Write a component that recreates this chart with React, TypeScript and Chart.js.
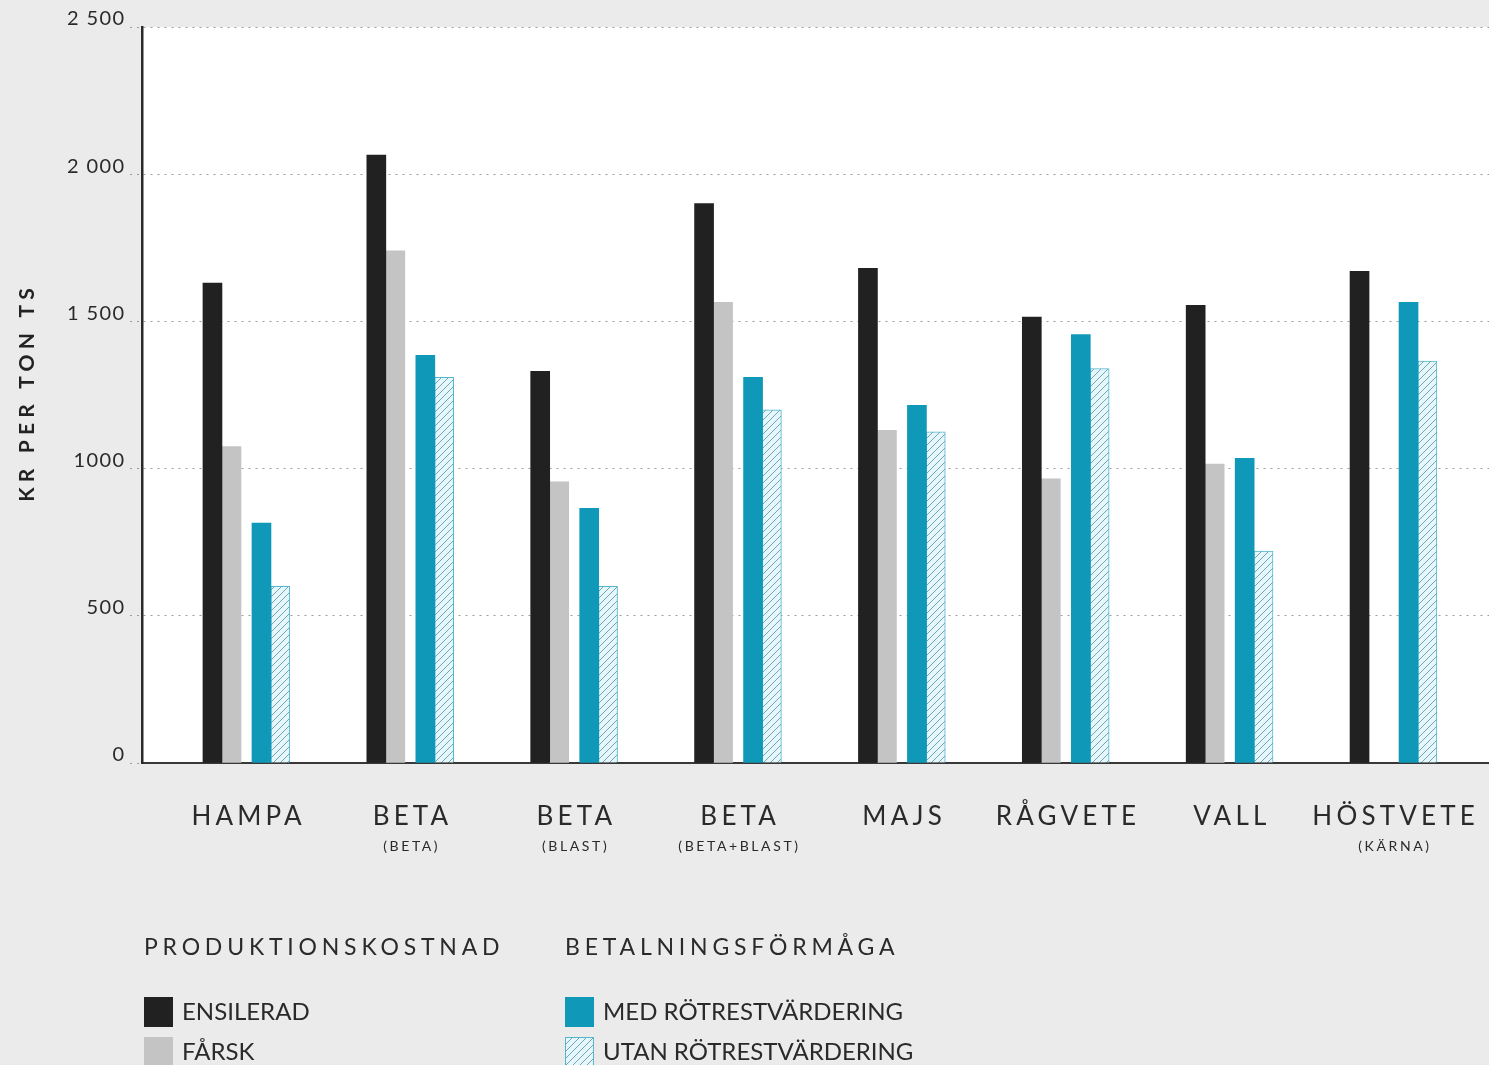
import React, { useEffect, useRef } from 'react';
import { Chart, registerables } from 'chart.js';

Chart.register(...registerables);

// ---------- data ----------
const categories = ['HAMPA', 'BETA', 'BETA', 'BETA', 'MAJS', 'RÅGVETE', 'VALL', 'HÖSTVETE'];
const subLabels = ['', '(BETA)', '(BLAST)', '(BETA+BLAST)', '', '', '', '(KÄRNA)'];

const ensilerad = [1630, 2065, 1330, 1900, 1680, 1515, 1555, 1670];
const farsk = [1075, 1740, 955, 1565, 1130, 965, 1015, null];
const medRotrest = [815, 1385, 865, 1310, 1215, 1455, 1035, 1565];
const utanRotrest = [600, 1310, 600, 1200, 1125, 1340, 720, 1365];

const seriesNames = ['ENSILERAD', 'FÅRSK', 'MED RÖTRESTVÄRDERING', 'UTAN RÖTRESTVÄRDERING'];
const legendHeaders = ['PRODUKTIONSKOSTNAD', 'BETALNINGSFÖRMÅGA'];

const yTicks = [0, 500, 1000, 1500, 2000, 2500];
const yTickLabels = ['0', '500', '1000', '1 500', '2 000', '2 500'];
const yTitle = 'KR PER TON TS';

// ---------- style ----------
const W = 1489;
const H = 1065;
const PAGE_BG = '#ebebeb';
const BLACK = '#212121';
const GRAY = '#c4c4c4';
const TEAL = '#1098b8';
const HATCH_BORDER = '#55b6cc';
const TEXT = '#2a2a2a';
const FONT = 'Lato, "Open Sans", sans-serif';

const barOffsets = [-0.208, -0.092, 0.091, 0.206];

function makeHatch(): CanvasPattern | string {
  const c = document.createElement('canvas');
  c.width = 7;
  c.height = 7;
  const g = c.getContext('2d');
  if (!g) return '#e4f5f9';
  g.fillStyle = '#e6f6fa';
  g.fillRect(0, 0, 7, 7);
  g.strokeStyle = '#6aa9b8';
  g.lineWidth = 1;
  g.beginPath();
  g.moveTo(-1, 8); g.lineTo(8, -1);
  g.moveTo(-1, 1); g.lineTo(1, -1);
  g.moveTo(6, 8); g.lineTo(8, 6);
  g.stroke();
  const p = g.createPattern(c, 'repeat');
  return p || '#e4f5f9';
}

function drawText(
  ctx: CanvasRenderingContext2D,
  text: string,
  x: number,
  y: number,
  opts: { font: string; spacing?: number; align?: 'left' | 'center' | 'right'; color?: string; scaleX?: number; rotate?: number }
) {
  ctx.save();
  ctx.font = opts.font;
  const sp = opts.spacing || 0;
  (ctx as any).letterSpacing = sp + 'px';
  ctx.fillStyle = opts.color || TEXT;
  ctx.textBaseline = 'middle';
  ctx.textAlign = 'left';
  ctx.translate(x, y);
  if (opts.rotate) ctx.rotate(opts.rotate);
  const sx = opts.scaleX || 1;
  ctx.scale(sx, 1);
  const w = ctx.measureText(text).width - sp;
  let dx = 0;
  if (opts.align === 'center') dx = -w / 2;
  else if (opts.align === 'right') dx = -w;
  ctx.fillText(text, dx, 0);
  ctx.restore();
}

export default function App() {
  const ref = useRef<HTMLCanvasElement>(null);

  useEffect(() => {
    const canvas = ref.current;
    if (!canvas) return;
    const hatch = makeHatch();

    const toPoints = (arr: (number | null)[], k: number) =>
      arr.map((v, i) => ({ x: i + barOffsets[k], y: v }));

    const bgPlugin = {
      id: 'bg',
      beforeDraw(chart: any) {
        const { ctx, chartArea } = chart;
        ctx.save();
        ctx.fillStyle = PAGE_BG;
        ctx.fillRect(0, 0, chart.width, chart.height);
        ctx.fillStyle = '#ffffff';
        ctx.fillRect(chartArea.left, chartArea.top, chartArea.right - chartArea.left, chartArea.bottom - chartArea.top);
        ctx.restore();
      },
    };

    const textPlugin = {
      id: 'texts',
      afterDraw(chart: any) {
        const { ctx } = chart;
        const xs = chart.scales.x;
        const ys = chart.scales.y;
        // y tick labels
        yTicks.forEach((v, i) => {
          const py = ys.getPixelForValue(v);
          drawText(ctx, yTickLabels[i], 124, py - 8, { font: `20px ${FONT}`, spacing: 1.4, align: 'right' });
        });
        // category labels
        categories.forEach((c, i) => {
          const px = xs.getPixelForValue(i);
          drawText(ctx, c, px, 817, { font: `26px ${FONT}`, spacing: 4.2, align: 'center' });
          if (subLabels[i]) {
            drawText(ctx, subLabels[i], px, 846, { font: `14px ${FONT}`, spacing: 2.6, align: 'center' });
          }
        });
        // y title
        drawText(ctx, yTitle, 27, 395, { font: `bold 21px ${FONT}`, spacing: 5.2, align: 'center', rotate: -Math.PI / 2, color: '#222' });

        // legend
        drawText(ctx, legendHeaders[0], 144, 948, { font: `23px ${FONT}`, spacing: 4.8, align: 'left' });
        drawText(ctx, legendHeaders[1], 565, 948, { font: `23px ${FONT}`, spacing: 4.8, align: 'left' });

        const items = [
          { x: 144, y: 997, fill: BLACK, label: seriesNames[0] },
          { x: 144, y: 1037, fill: GRAY, label: seriesNames[1] },
          { x: 565, y: 997, fill: TEAL, label: seriesNames[2] },
          { x: 565, y: 1037, fill: hatch, label: seriesNames[3], border: HATCH_BORDER },
        ];
        items.forEach((it) => {
          ctx.save();
          ctx.fillStyle = it.fill as any;
          ctx.fillRect(it.x, it.y, 29, 30);
          if (it.border) {
            ctx.strokeStyle = it.border;
            ctx.lineWidth = 1;
            ctx.strokeRect(it.x + 0.5, it.y + 0.5, 28, 29);
          }
          ctx.restore();
          drawText(ctx, it.label, it.x + 38, it.y + 15, { font: `24px ${FONT}`, spacing: 0, align: 'left', scaleX: 1.0 });
        });
      },
    };

    const chart = new Chart(canvas, {
      type: 'bar',
      data: {
        datasets: [
          { label: seriesNames[0], data: toPoints(ensilerad, 0), backgroundColor: BLACK },
          { label: seriesNames[1], data: toPoints(farsk, 1), backgroundColor: GRAY },
          { label: seriesNames[2], data: toPoints(medRotrest, 2), backgroundColor: TEAL },
          { label: seriesNames[3], data: toPoints(utanRotrest, 3), backgroundColor: hatch as any, borderColor: HATCH_BORDER, borderWidth: 1 },
        ] as any,
      },
      options: {
        responsive: false,
        maintainAspectRatio: false,
        animation: false,
        layout: { padding: { top: 27, left: 0, right: 0, bottom: 0 } },
        datasets: { bar: { grouped: false, barThickness: 19 } } as any,
        plugins: { legend: { display: false }, tooltip: { enabled: false } },
        scales: {
          x: {
            type: 'linear',
            offset: false,
            min: -0.638,
            max: 7.582,
            ticks: { display: false },
            grid: { display: false, drawTicks: false },
            border: { display: true, color: '#383838', width: 2 },
            afterFit(scale: any) { scale.height = H - 763; },
          },
          y: {
            min: 0,
            max: 2500,
            afterBuildTicks(scale: any) { scale.ticks = yTicks.map((v) => ({ value: v })); },
            ticks: { display: false },
            grid: {
              color: '#9c9c9c',
              lineWidth: 1,
              tickLength: 12,
              tickColor: '#9c9c9c',
              tickBorderDash: [2, 5],
            },
            border: { display: true, color: '#2a2a2a', width: 2.5, dash: [2, 5] },
            afterFit(scale: any) { scale.width = 142; },
          },
        } as any,
      },
      plugins: [bgPlugin, textPlugin],
    });

    return () => chart.destroy();
  }, []);

  return (
    <div style={{ position: 'fixed', left: 0, top: 0, width: W, height: H, background: PAGE_BG, overflow: 'hidden' }}>
      <canvas ref={ref} width={W} height={H} style={{ display: 'block', width: W, height: H }} />
    </div>
  );
}
